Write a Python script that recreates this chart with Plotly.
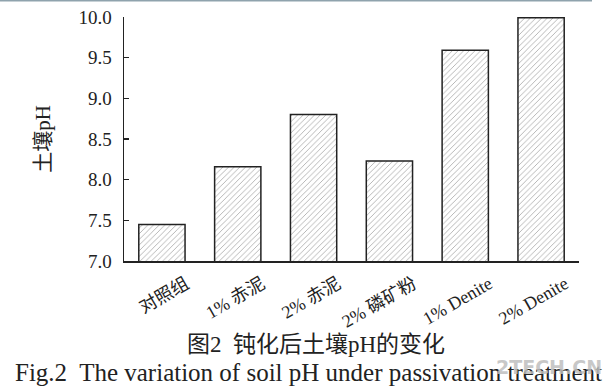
import plotly.graph_objects as go

categories = ["对照组", "1% 赤泥", "2% 赤泥", "2% 磷矿粉", "1% Denite", "2% Denite"]
ph_values = [7.45, 8.16, 8.80, 8.23, 9.59, 9.99]
y_ticks = [7.0, 7.5, 8.0, 8.5, 9.0, 9.5, 10.0]
y_title = "土壤pH"
caption_cn = "图2  钝化后土壤pH的变化"
caption_en = "Fig.2  The variation of soil pH under passivation treatment"
watermark = "2TECH.CN"

FONT = "Liberation Serif, Times New Roman, Noto Sans CJK SC, serif"

fig = go.Figure()
fig.add_trace(go.Bar(
    x=list(range(len(categories))),
    y=ph_values,
    width=0.61,
    marker=dict(
        color="white",
        line=dict(color="#222222", width=1.5),
        pattern=dict(shape="/", fgcolor="#5e5e5e", bgcolor="white", size=4, solidity=0.22),
    ),
    showlegend=False,
    hoverinfo="skip",
))

W, H = 613, 390
L, R, T, B = 124, 34, 17, 129
pw = W - L - R
ph = H - T - B

fig.update_layout(
    width=W, height=H,
    margin=dict(l=L, r=R, t=T, b=B, pad=0, autoexpand=False),
    paper_bgcolor="white", plot_bgcolor="white",
    font=dict(family=FONT, color="#222222"),
)
fig.update_xaxes(
    range=[-0.5, len(categories) - 0.5],
    tickvals=list(range(len(categories))),
    ticktext=categories,
    tickangle=-30,
    ticks="",
    showline=True, linecolor="#222222", linewidth=1.5,
    showgrid=False, zeroline=False,
    tickfont=dict(size=18, family=FONT),
    ticklabelshift=24,
    ticklabelstandoff=4,
    automargin=False,
)
fig.update_yaxes(
    range=[7.0, 10.0],
    tickvals=y_ticks,
    ticktext=[f"{v:.1f}" for v in y_ticks],
    ticks="inside", ticklen=5, tickwidth=1.5, tickcolor="#222222",
    showline=True, linecolor="#222222", linewidth=1.5,
    showgrid=False, zeroline=False,
    tickfont=dict(size=19, family=FONT),
    ticklabelstandoff=7,
    title=dict(text=y_title, font=dict(size=21, family=FONT), standoff=22),
    automargin=False,
)

def px_to_paper_x(px):
    return (px - L) / pw

def px_to_paper_y(py):
    return (H - B - py) / ph

fig.add_annotation(text=caption_cn, xref="paper", yref="paper",
                   x=px_to_paper_x(316), y=px_to_paper_y(344),
                   xanchor="center", yanchor="middle", showarrow=False,
                   font=dict(size=23, family=FONT, color="#222222"))
fig.add_annotation(text=caption_en, xref="paper", yref="paper",
                   x=px_to_paper_x(308), y=px_to_paper_y(372),
                   xanchor="center", yanchor="middle", showarrow=False,
                   font=dict(size=25, family=FONT, color="#222222"))
fig.add_annotation(text="<b>" + watermark + "</b>", xref="paper", yref="paper",
                   x=px_to_paper_x(549), y=px_to_paper_y(367),
                   xanchor="center", yanchor="middle", showarrow=False,
                   font=dict(size=19, family="DejaVu Sans", color="rgba(190,190,190,0.85)"))

fig.add_shape(type="line", xref="paper", yref="paper",
              x0=px_to_paper_x(0), x1=px_to_paper_x(592),
              y0=px_to_paper_y(0.8), y1=px_to_paper_y(0.8),
              line=dict(color="#8fa3ad", width=1.6))

fig.write_html("out.html",
               config={"displayModeBar": False, "staticPlot": True},
               post_script="document.body.style.margin='0';document.body.style.overflow='hidden';")
